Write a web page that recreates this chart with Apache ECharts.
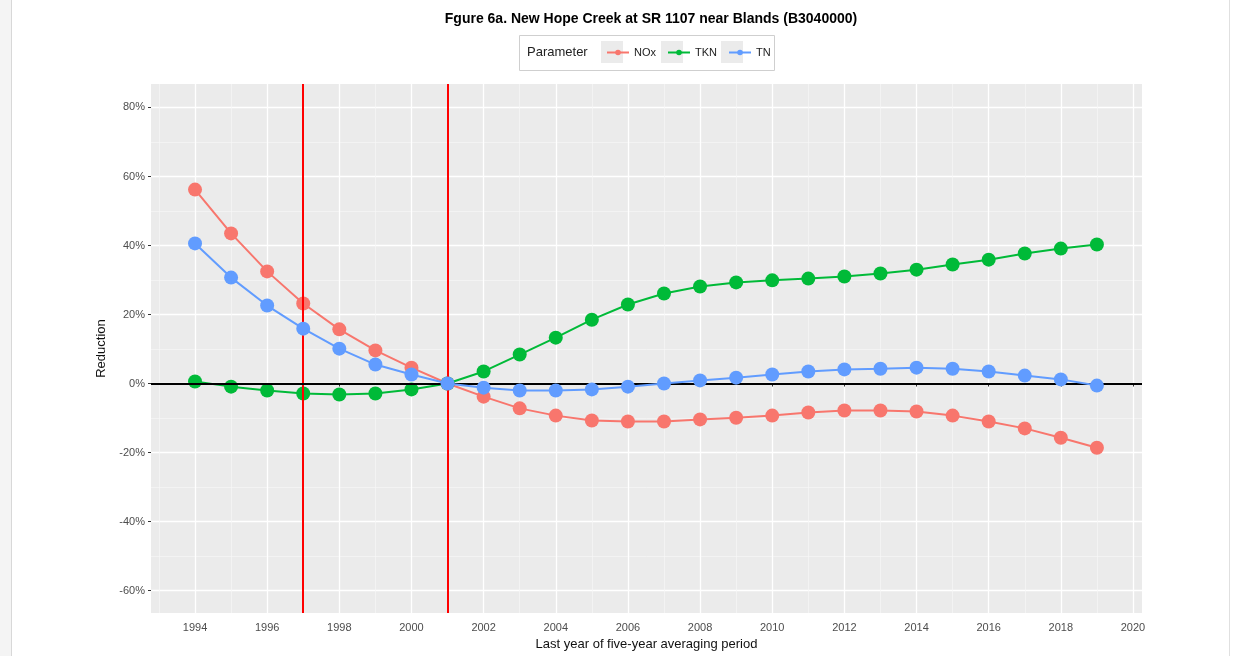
<!DOCTYPE html>
<html><head><meta charset="utf-8">
<script src="https://cdn.jsdelivr.net/npm/echarts@6/dist/echarts.min.js"></script>
<style>html,body{margin:0;padding:0;background:#fff}#c{width:1236px;height:656px}</style>
</head><body><div id="c"></div>
<script>
const years = [1994,1995,1996,1997,1998,1999,2000,2001,2002,2003,2004,2005,2006,2007,2008,2009,2010,2011,2012,2013,2014,2015,2016,2017,2018,2019];
const nox = [56.2,43.5,32.5,23.2,15.7,9.6,4.6,0,-3.8,-7.2,-9.3,-10.7,-11.0,-11.0,-10.4,-9.9,-9.3,-8.4,-7.8,-7.8,-8.1,-9.3,-11.0,-13.0,-15.7,-18.6];
const tkn = [0.6,-0.9,-2.0,-2.9,-3.2,-2.9,-1.7,0,3.5,8.4,13.3,18.5,22.9,26.1,28.1,29.3,29.9,30.4,31.0,31.9,33.0,34.5,35.9,37.7,39.1,40.3];
const tn = [40.6,30.7,22.6,15.9,10.1,5.5,2.6,0,-1.2,-2.0,-2.0,-1.7,-0.9,0,0.9,1.7,2.6,3.5,4.1,4.3,4.6,4.3,3.5,2.3,1.2,-0.6];
const seriesNames = ['NOx','TKN','TN'];
const xMajorTicks = [1994,1996,1998,2000,2002,2004,2006,2008,2010,2012,2014,2016,2018,2020];
const xMinorTicks = [1993,1995,1997,1999,2001,2003,2005,2007,2009,2011,2013,2015,2017,2019];
const yMajorTicks = [-60,-40,-20,0,20,40,60,80];
const yMinorTicks = [-50,-30,-10,10,30,50,70];
const refYears = [1997, 2001];
const refLevel = 0;

const colors = ['#F8766D','#00BA38','#619CFF'];
const FONT = 'Liberation Sans, Arial, sans-serif';
const X_MIN = 1992.78, X_MAX = 2020.25, Y_MIN = -66.5, Y_MAX = 86.8;

const chart = echarts.init(document.getElementById('c'), null, {renderer:'canvas'});
const dataSets = [nox, tkn, tn];
const lineSeries = seriesNames.map((n,i)=>({
  name:n, type:'line', xAxisIndex:0, yAxisIndex:0,
  data: years.map((y,k)=>[y, dataSets[i][k]]),
  symbol:'circle', symbolSize:14,
  lineStyle:{width:2, color:colors[i]},
  itemStyle:{color:colors[i]},
  z: 3 + i, animation:false
}));
const refSeries = {
  name:'ref', type:'line', xAxisIndex:0, yAxisIndex:0, data:[], z:20, animation:false,
  markLine:{
    silent:true, symbol:'none', animation:false,
    label:{show:false},
    data: refYears.map(y=>({xAxis:y, lineStyle:{color:'#FF0000', width:2, type:'solid'}}))
      .concat([{yAxis:refLevel, lineStyle:{color:'#000000', width:2, type:'solid'}}])
  }
};

const axisCommon = { type:'value', min:X_MIN, max:X_MAX };
chart.setOption({
  animation:false,
  backgroundColor:'#ffffff',
  textStyle:{fontFamily:FONT},
  title:{
    text:'Fgure 6a. New Hope Creek at SR 1107 near Blands (B3040000)',
    left:646, textAlign:'center', top:7,
    textStyle:{fontFamily:FONT, fontSize:14, fontWeight:'bold', color:'#000'}
  },
  legend:{
    data:seriesNames, left:601, top:42, itemWidth:22, itemHeight:7, itemGap:11,
    textStyle:{fontFamily:FONT, fontSize:11, color:'#222'}, selectedMode:false
  },
  graphic:[
    {type:'rect', shape:{x:0,y:0,width:11,height:656}, style:{fill:'#f4f4f4'}, silent:true},
    {type:'line', shape:{x1:11.5,y1:0,x2:11.5,y2:656}, style:{stroke:'#d8d8d8', lineWidth:1}, silent:true},
    {type:'line', shape:{x1:1229.5,y1:0,x2:1229.5,y2:656}, style:{stroke:'#e0e0e0', lineWidth:1}, silent:true},
    {type:'rect', shape:{x:519.5,y:35.5,width:255,height:35}, style:{fill:'#fff', stroke:'#cfcfcf', lineWidth:1}, silent:true, z:-1},
    {type:'text', left:527, top:46, style:{text:'Parameter', fontFamily:FONT, fontSize:13, fill:'#222'}, silent:true},
    {type:'rect', shape:{x:601,y:41,width:22,height:22}, style:{fill:'#EBEBEB'}, silent:true, z:-1},
    {type:'rect', shape:{x:661,y:41,width:22,height:22}, style:{fill:'#EBEBEB'}, silent:true, z:-1},
    {type:'rect', shape:{x:721,y:41,width:22,height:22}, style:{fill:'#EBEBEB'}, silent:true, z:-1}
  ],
  grid:{left:151, right:94, top:84, bottom:43, show:true, backgroundColor:'#EBEBEB', borderWidth:0, containLabel:false, outerBoundsMode:'none'},
  xAxis:[
    Object.assign({}, axisCommon, {
      position:'bottom',
      name:'Last year of five-year averaging period', nameLocation:'middle', nameGap:25,
      nameTextStyle:{fontFamily:FONT, fontSize:13, color:'#111'},
      axisLine:{show:false},
      axisTick:{show:true, length:3, customValues:xMajorTicks, lineStyle:{color:'#333', width:1}},
      axisLabel:{customValues:xMajorTicks, formatter:v=>String(v), color:'#4D4D4D', fontSize:11, margin:9, fontFamily:FONT},
      splitLine:{show:true, lineStyle:{color:'#ffffff', width:1.3}}
    }),
    Object.assign({}, axisCommon, {
      position:'top', axisLine:{show:false},
      axisTick:{show:false, customValues:xMinorTicks},
      axisLabel:{show:false, customValues:xMinorTicks},
      splitLine:{show:true, lineStyle:{color:'#F7F7F7', width:0.7}}
    })
  ],
  yAxis:[
    {type:'value', min:Y_MIN, max:Y_MAX, position:'left',
      name:'Reduction', nameLocation:'middle', nameGap:40, nameRotate:90,
      nameTextStyle:{fontFamily:FONT, fontSize:13, color:'#111'},
      axisLine:{show:false},
      axisTick:{show:true, length:3, customValues:yMajorTicks, lineStyle:{color:'#333', width:1}},
      axisLabel:{customValues:yMajorTicks, formatter:v=>v+'%', color:'#4D4D4D', fontSize:11, margin:6, fontFamily:FONT},
      splitLine:{show:true, lineStyle:{color:'#ffffff', width:1.3}}
    },
    {type:'value', min:Y_MIN, max:Y_MAX, position:'right',
      axisLine:{show:false},
      axisTick:{show:false, customValues:yMinorTicks},
      axisLabel:{show:false, customValues:yMinorTicks},
      splitLine:{show:true, lineStyle:{color:'#F7F7F7', width:0.7}}
    }
  ],
  series: lineSeries.concat([refSeries])
});
</script></body></html>
